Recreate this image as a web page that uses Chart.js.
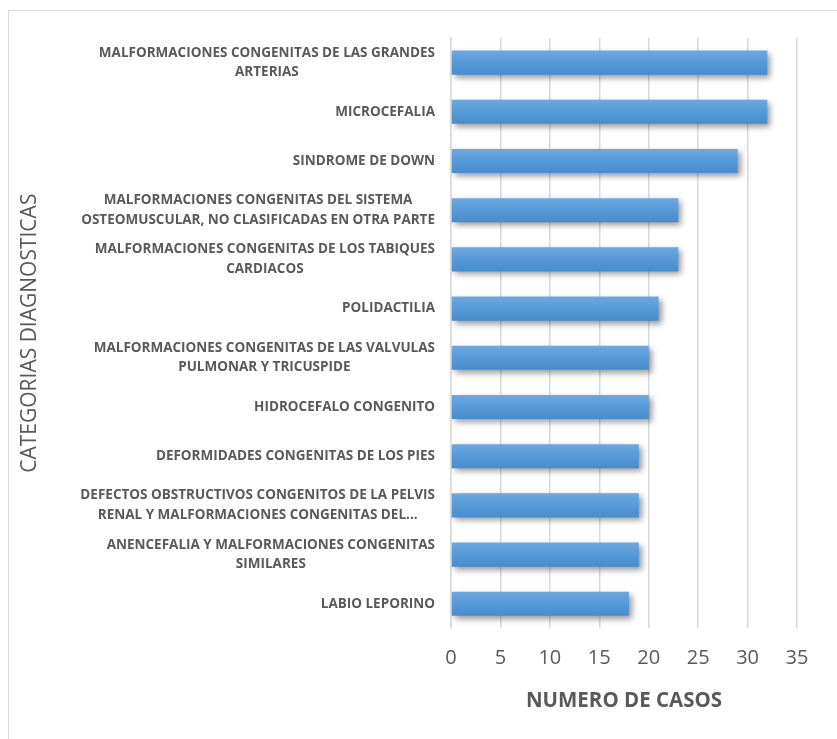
<!DOCTYPE html>
<html>
<head>
<meta charset="utf-8">
<script src="https://cdn.jsdelivr.net/npm/chart.js@4.4.1/dist/chart.umd.min.js"></script>
<style>
  html, body { margin: 0; padding: 0; background: #fff; }
  #wrap { position: relative; width: 837px; height: 739px; }
</style>
</head>
<body>
<div id="wrap"><canvas id="casosChart" width="837" height="739"></canvas></div>
<script>
const categories = [
  ['MALFORMACIONES CONGENITAS DE LAS GRANDES', 'ARTERIAS'],
  'MICROCEFALIA',
  'SINDROME DE DOWN',
  ['MALFORMACIONES CONGENITAS DEL SISTEMA', 'OSTEOMUSCULAR, NO CLASIFICADAS EN OTRA PARTE'],
  ['MALFORMACIONES CONGENITAS DE LOS TABIQUES', 'CARDIACOS'],
  'POLIDACTILIA',
  ['MALFORMACIONES CONGENITAS DE LAS VALVULAS', 'PULMONAR Y TRICUSPIDE'],
  'HIDROCEFALO CONGENITO',
  'DEFORMIDADES CONGENITAS DE LOS PIES',
  ['DEFECTOS OBSTRUCTIVOS CONGENITOS DE LA PELVIS', 'RENAL Y MALFORMACIONES CONGENITAS DEL...'],
  ['ANENCEFALIA Y MALFORMACIONES CONGENITAS', 'SIMILARES'],
  'LABIO LEPORINO'
];
const casos = [32, 32, 29, 23, 23, 21, 20, 20, 19, 19, 19, 18];
const xTitle = 'NUMERO DE CASOS';
const yTitle = 'CATEGORIAS DIAGNOSTICAS';

const textGrey = '#595959';
const labelFont = '700 13.5px "Open Sans"';

// excel-ish vertical gradient on each bar
function barGradient(context) {
  const chart = context.chart;
  const yScale = chart.scales.y;
  if (!yScale || !chart.chartArea) return '#5b9bd5';
  const cy = yScale.getPixelForValue(context.dataIndex);
  const g = chart.ctx.createLinearGradient(0, cy - 12, 0, cy + 12);
  g.addColorStop(0, '#6ea8de');
  g.addColorStop(0.5, '#5599d8');
  g.addColorStop(1, '#478ccd');
  return g;
}

const frameAndShadow = {
  id: 'frameAndShadow',
  beforeDraw(chart) {
    const ctx = chart.ctx;
    ctx.save();
    ctx.strokeStyle = '#d9d9d9';
    ctx.lineWidth = 1;
    ctx.strokeRect(8.5, 10.5, 900, 800);
    ctx.restore();
  },
  beforeDatasetsDraw(chart) {
    const ctx = chart.ctx;
    ctx.save();
    ctx.shadowColor = 'rgba(0,0,0,0.4)';
    ctx.shadowBlur = 6;
    ctx.shadowOffsetX = 3;
    ctx.shadowOffsetY = 3;
  },
  afterDatasetsDraw(chart) {
    chart.ctx.restore();
  }
};

// category labels: block right aligned, lines centred inside the block
const categoryLabels = {
  id: 'categoryLabels',
  afterDraw(chart) {
    const ctx = chart.ctx;
    const yScale = chart.scales.y;
    const right = yScale.right - 16;
    const lineH = 19.5;
    ctx.save();
    ctx.font = labelFont;
    ctx.fillStyle = textGrey;
    ctx.textAlign = 'center';
    ctx.textBaseline = 'middle';
    categories.forEach((lab, i) => {
      const lines = Array.isArray(lab) ? lab : [lab];
      const w = Math.max(...lines.map(l => ctx.measureText(l).width));
      const cx = right - w / 2;
      const cy = yScale.getPixelForTick(i);
      const y0 = cy - (lines.length - 1) * lineH / 2;
      lines.forEach((l, k) => ctx.fillText(l, cx, y0 + k * lineH));
    });
    ctx.restore();
  }
};

new Chart(document.getElementById('casosChart').getContext('2d'), {
  type: 'bar',
  data: {
    labels: categories,
    datasets: [{
      label: xTitle,
      data: casos,
      backgroundColor: barGradient,
      borderWidth: 0,
      categoryPercentage: 1,
      barPercentage: 0.49
    }]
  },
  options: {
    indexAxis: 'y',
    responsive: false,
    animation: false,
    layout: { padding: { left: 8, top: 38, right: 40, bottom: 5 } },
    scales: {
      x: {
        min: 0,
        max: 35,
        ticks: {
          stepSize: 5,
          padding: 20,
          color: textGrey,
          font: { family: 'Open Sans', size: 20, weight: '400', lineHeight: 1 }
        },
        grid: { color: '#d9d9d9', lineWidth: 1.5, drawTicks: false },
        border: { display: false },
        title: {
          display: true,
          text: xTitle,
          color: textGrey,
          padding: { top: 0, bottom: 21 },
          font: { family: 'Open Sans', size: 20.5, weight: 'bold' }
        }
      },
      y: {
        afterFit(scale) { scale.width = 443; },
        ticks: { color: 'transparent', font: { size: 12 } },
        grid: { display: false },
        border: { display: true, color: '#d9d9d9', width: 1.5 },
        title: {
          display: true,
          text: yTitle,
          color: textGrey,
          padding: { top: 9, bottom: 0 },
          font: { family: 'Open Sans', size: 21, weight: '400' }
        }
      }
    },
    plugins: {
      legend: { display: false },
      tooltip: { enabled: false }
    }
  },
  plugins: [frameAndShadow, categoryLabels]
});
</script>
</body>
</html>
